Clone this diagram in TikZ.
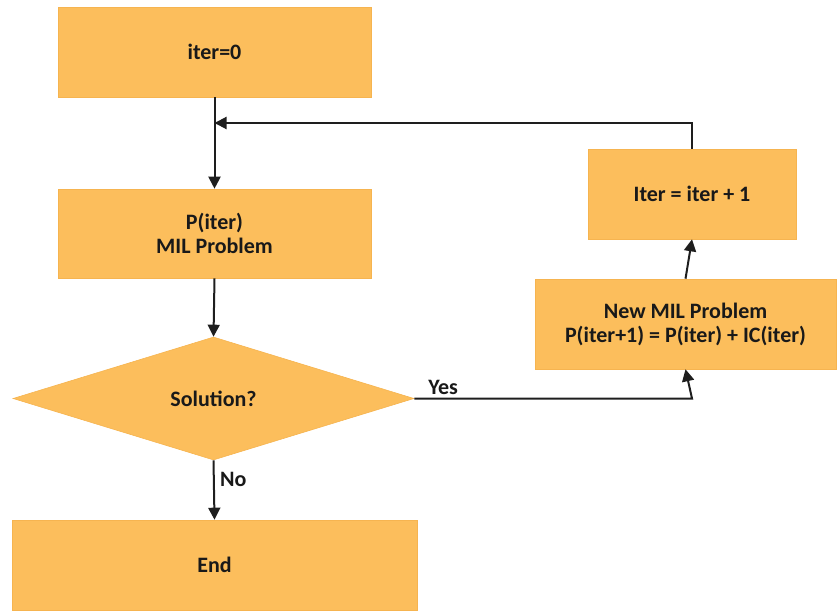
\documentclass[tikz,border=0pt]{standalone}
\usepackage{fontspec}
\setmainfont{Carlito}
\usetikzlibrary{shapes.geometric,arrows.meta}
\definecolor{boxfill}{RGB}{252,190,92}
\definecolor{boxedge}{RGB}{246,180,80}
\definecolor{linecol}{RGB}{30,30,30}
\begin{document}
\begin{tikzpicture}[x=1pt,y=-1pt,
  every node/.style={font=\fontsize{22}{24}\selectfont\bfseries, text=black!90},
  procbox/.style={draw=boxedge, fill=boxfill, line width=0.6pt, minimum width=#1, minimum height=90pt, inner sep=0pt, align=center},
  decbox/.style={diamond, draw=boxedge, fill=boxfill, line width=0.6pt, minimum width=401pt, minimum height=123pt, inner sep=0pt, aspect=3.26},
  conn/.style={draw=linecol, line width=2pt, -{Triangle[length=12pt,width=12pt]}},
  plainconn/.style={draw=linecol, line width=2pt}
]
\useasboundingbox (0,0) rectangle (838,612);
\node[procbox=313pt] (start) at (214.5,52) {iter=0};
\node[procbox=313pt, minimum height=89pt] (prob) at (214.5,233.5) {P(iter)\\MIL Problem};
\node[decbox] (sol) at (213.5,398.5) {Solution?};
\node[procbox=405pt] (end) at (214.5,565) {End};
\node[procbox=208pt] (inc) at (692,194) {Iter = iter + 1};
\node[procbox=301pt] (newp) at (685.5,324) {New MIL Problem\\P(iter+1) = P(iter) + IC(iter)};
\coordinate (loopR) at (692,123);
\coordinate (loopL) at (214.5,123);
\coordinate (yesC) at (692,398.5);
\draw[conn] (start.south) -- (prob.north);
\draw[conn] (prob.south) -- (sol.north);
\draw[conn] (sol.south) -- node[right, xshift=2pt, pos=0.33] (nolab) {No} (end.north);
\draw[conn] (sol.east) -- node[above, pos=0.035, anchor=south west] (yeslab) {Yes} (yesC) -- (newp.south);
\draw[conn] (newp.north) -- (inc.south);
\draw[conn] (inc.north) -- (loopR) -- (loopL);
\end{tikzpicture}
\end{document}
